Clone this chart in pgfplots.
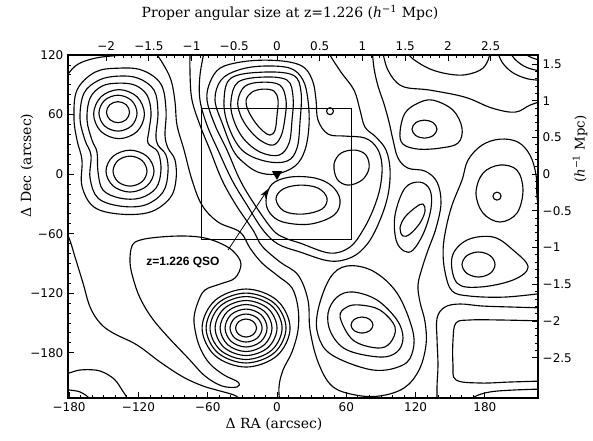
\documentclass[border=0pt]{standalone}
\usepackage{fontspec}
\setmainfont{DejaVu Serif}
\newfontfamily\numfont{DejaVu Sans}
\newfontfamily\lblfont{Liberation Sans}
\usepackage{pgfplots}
\pgfplotsset{compat=1.18}
\usetikzlibrary{arrows.meta}
\pgfplotsset{cl/.style={/tikz/smooth cycle, tension=0.6}, op/.style={smooth, tension=0.6}}
\begin{document}
\begin{tikzpicture}
\begin{axis}[
  scale only axis, width=352.5pt, height=257.25pt,
  xmin=-181, xmax=226, ymin=-225.6, ymax=120,
  axis line style={line width=0.8pt},
  tick align=inside, major tick length=4.5pt, minor tick length=2.5pt,
  every tick/.style={black, line width=0.6pt},
  xtick pos=bottom, ytick pos=left,
  xtick={-180,-120,-60,0,60,120,180},
  ytick={-180,-120,-60,0,60,120},
  minor x tick num=5, minor y tick num=5,
  xticklabels={−180,−120,−60,0,60,120,180},
  yticklabels={−180,−120,−60,0,60,120},
  tick label style={font=\numfont\fontsize{9}{11}\selectfont},
  every axis plot/.append style={black, line width=0.85pt},
]
% left double peak
\addplot[cl] coordinates {(-127.7,62.4) (-130.6,69.9) (-137.7,73.0) (-144.8,69.9) (-147.7,62.4) (-144.8,54.9) (-137.7,51.8) (-130.6,54.9)};
\addplot[cl] coordinates {(-121.2,61.4) (-126.0,74.2) (-137.7,79.5) (-149.4,74.2) (-154.2,61.4) (-149.4,48.6) (-137.7,43.3) (-126.0,48.6)};
\addplot[cl] coordinates {(-114.8,60.4) (-121.2,77.9) (-136.8,85.1) (-152.4,77.9) (-158.8,60.4) (-152.4,42.9) (-136.8,35.7) (-121.2,42.9)};
\addplot[cl] coordinates {(-112.6,3) (-116.9,13.7) (-127.3,18.1) (-137.7,13.7) (-142.0,3) (-137.7,-7.7) (-127.3,-12.1) (-116.9,-7.7)};
\addplot[cl] coordinates {(-106.5,3) (-112.6,17.9) (-127.3,24.1) (-142.0,17.9) (-148.1,3) (-142.0,-11.9) (-127.3,-18.1) (-112.6,-11.9)};
\addplot[cl] coordinates {(-137.7,91.6) (-123.0,89.6) (-112.6,79.6) (-109.1,62.4) (-110.8,44.3) (-111.7,31.2) (-103.1,22.2) (-100.5,4.0) (-104.8,-14.1) (-118.6,-24.2) (-136.0,-24.2) (-150.7,-16.1) (-155.0,2.0) (-155.9,22.2) (-160.2,34.2) (-164.5,54.4) (-161.9,76.5) (-151.6,88.6)};
\addplot[cl] coordinates {(-137.7,98.7) (-120.4,96.7) (-106.5,84.6) (-103.1,62.4) (-104.8,39.3) (-103.1,29.2) (-96.1,19.1) (-94.4,2.0) (-98.7,-18.1) (-114.3,-31.2) (-136.0,-32.2) (-155.0,-24.2) (-161.9,-4.0) (-161.1,19.1) (-166.3,34.2) (-170.6,56.4) (-167.1,81.6) (-154.1,94.7)};
\addplot[cl] coordinates {(-137.7,106.7) (-116.9,104.7) (-100.5,90.6) (-96.1,64.4) (-97.0,39.3) (-94.4,26.2) (-88.3,14.1) (-87.5,-6.0) (-92.7,-24.2) (-110.0,-38.3) (-136.0,-40.3) (-158.5,-33.2) (-168.9,-12.1) (-168.9,14.1) (-173.2,34.2) (-175.8,56.4) (-173.2,84.6) (-157.6,102.7)};
\addplot[op] coordinates {(-186.2,89.6) (-181.0,100.7) (-172.3,110.8) (-157.6,116.8) (-140.3,119.3) (-123.0,120.8) (-110.0,123.9)};
% central peak
\addplot[cl] coordinates {(-26.8,74.5) (-21.7,82.6) (-12.1,85.6) (-2.6,83.6) (0.9,74.5) (0,59.4) (-1.7,44.3) (-6.1,39.3) (-12.1,43.3) (-19.1,52.4) (-25.1,64.4)};
\addplot[cl] coordinates {(-33.8,74.5) (-27.7,88.6) (-13.0,92.6) (2.6,89.6) (7.8,74.5) (6.9,56.4) (3.5,38.3) (-3.5,29.2) (-14.7,34.2) (-25.1,46.3) (-32.0,60.4)};
\addplot[cl] coordinates {(-39.8,74.5) (-33.8,92.6) (-13.0,97.7) (8.7,94.7) (13.9,77.5) (13.0,54.4) (10.4,31.2) (1.7,19.1) (-14.7,22.2) (-29.4,36.3) (-38.1,56.4)};
\addplot[cl] coordinates {(-45.9,74.5) (-39.8,96.7) (-13.0,102.7) (13.9,99.7) (20.8,82.6) (19.9,52.4) (17.3,26.2) (8.7,13.1) (-10.4,13.1) (-30.3,24.2) (-42.4,49.3)};
\addplot[cl] coordinates {(-53.7,74.5) (-48.5,94.7) (-33.8,104.7) (-13.0,108.8) (11.3,106.7) (22.5,94.7) (26.8,74.5) (27.7,49.3) (24.2,24.2) (15.6,8.1) (-0.9,0) (-16.5,2.0) (-29.4,12.1) (-38.1,24.2) (-46.8,49.3)};
\addplot[cl] coordinates {(-0.9,-25.2) (5.2,-15.1) (19.9,-11.1) (35.5,-14.1) (43.3,-24.2) (39.0,-35.2) (22.5,-40.3) (6.1,-37.3)};
\addplot[cl] coordinates {(-9.5,-26.2) (-4.3,-10.1) (11.3,-3.0) (32.9,-4.0) (47.6,-12.1) (54.6,-26.2) (49.4,-41.3) (28.6,-50.4) (5.2,-48.3) (-6.1,-39.3)};
\addplot[cl] coordinates {(49.4,10.1) (55.4,21.1) (67.5,24.2) (77.1,19.1) (79.7,6.0) (73.6,-6.0) (61.5,-11.1) (52.0,-5.0)};
\addplot[cl] coordinates {(48.9,63.4) (48.0,65.9) (45.9,66.9) (43.8,65.9) (42.9,63.4) (43.8,60.9) (45.9,59.9) (48.0,60.9)};
\addplot[cl] coordinates {(-60.6,74.5) (-53.7,49.3) (-43.3,24.2) (-32.0,-6.0) (-19.1,-31.2) (-3.5,-56.4) (6.9,-64.4) (19.9,-69.5) (45.9,-79.6) (63.2,-73.5) (74.5,-56.4) (83.1,-36.3) (89.2,-14.1) (90.9,9.1) (86.6,26.2) (76.2,36.3) (58.9,38.3) (44.2,40.3) (35.5,54.4) (33.8,74.5) (31.2,92.6) (24.2,106.7) (11.3,112.8) (-10.4,114.8) (-32.0,112.8) (-49.4,106.7) (-58.0,92.6)};
\addplot[op] coordinates {(-62.4,126.9) (-66.7,99.7) (-66.7,74.5) (-60.6,49.3) (-51.1,24.2) (-39.0,-6.0) (-26.0,-31.2) (-12.1,-56.4) (0.9,-70.5) (19.9,-78.5) (45.9,-87.6) (65.0,-83.6) (78.8,-69.5) (89.2,-46.3) (96.1,-21.1) (97.9,4.0) (94.4,24.2) (85.7,37.3) (76.2,47.3) (71.9,64.4) (66.7,84.6) (55.4,102.7) (45.9,119.8) (43.3,126.9)};
\addplot[op] coordinates {(-75.3,126.9) (-75.3,99.7) (-73.6,74.5) (-66.7,49.3) (-58.0,24.2) (-47.6,-6.0) (-35.5,-31.2) (-20.8,-56.4) (-13.0,-72.5) (2.6,-88.6) (18.2,-101.7) (26.8,-126.9) (28.6,-157.1) (35.5,-189.3) (47.6,-213.5) (67.5,-222.5) (89.2,-223.5) (110.0,-215.5) (123.0,-197.4) (129.0,-172.2) (128.2,-149.0) (123.8,-128.9) (122.1,-111.8) (125.6,-94.7) (130.8,-76.5) (137.7,-54.4) (142.0,-29.2) (138.6,-8.1) (128.2,3.0) (113.4,6.0) (104.8,16.1) (100.5,34.2) (97.0,52.4) (92.7,70.5) (87.5,88.6) (84.0,106.7) (82.3,126.9)};
\addplot[op] coordinates {(-108.3,126.9) (-99.6,112.8) (-91.8,94.7) (-88.3,72.5) (-86.6,49.3) (-80.5,24.2) (-73.6,-6.0) (-65.0,-31.2) (-51.1,-48.3) (-32.0,-58.4) (-23.4,-74.5) (-13.0,-89.6) (0.9,-102.7) (13.0,-114.8) (18.2,-135.0) (18.2,-157.1) (13.0,-179.2) (5.2,-197.4) (1.7,-214.5) (2.6,-232.6)};
% QSO region and lower swirl
\addplot[cl] coordinates {(-125.6,-72.5) (-118.6,-66.5) (-101.3,-63.4) (-79.7,-62.4) (-62.4,-64.4) (-47.6,-70.5) (-37.2,-78.5) (-31.2,-90.6) (-36.4,-104.7) (-49.4,-110.8) (-62.4,-116.8) (-68.4,-128.9) (-71.9,-145.0) (-70.1,-162.1) (-65.8,-177.2) (-58.0,-191.3) (-45.9,-202.4) (-33.8,-209.5) (-34.6,-214.5) (-47.6,-213.5) (-62.4,-203.4) (-77.1,-185.3) (-94.4,-164.1) (-108.3,-145.0) (-118.6,-124.9) (-124.7,-104.7) (-127.3,-88.6)};
\addplot[cl] coordinates {(-17.7,-155.1) (-20.4,-148.7) (-26.8,-146.0) (-33.2,-148.7) (-35.9,-155.1) (-33.2,-161.5) (-26.8,-164.2) (-20.4,-161.5)};
\addplot[cl] coordinates {(-12.9,-155.1) (-17.0,-145.1) (-26.8,-141.0) (-36.6,-145.1) (-40.7,-155.1) (-36.6,-165.1) (-26.8,-169.2) (-17.0,-165.1)};
\addplot[cl] coordinates {(-8.6,-155.1) (-13.9,-141.6) (-26.8,-136.0) (-39.7,-141.6) (-45.0,-155.1) (-39.7,-168.6) (-26.8,-174.2) (-13.9,-168.6)};
\addplot[cl] coordinates {(-4.3,-155.1) (-10.9,-138.3) (-26.8,-131.4) (-42.7,-138.3) (-49.3,-155.1) (-42.7,-171.9) (-26.8,-178.8) (-10.9,-171.9)};
\addplot[cl] coordinates {(0,-155.1) (-7.8,-135.5) (-26.8,-127.4) (-45.8,-135.5) (-53.6,-155.1) (-45.8,-174.7) (-26.8,-182.8) (-7.8,-174.7)};
\addplot[cl] coordinates {(4.4,-155.1) (-4.7,-132.7) (-26.8,-123.4) (-48.9,-132.7) (-58.0,-155.1) (-48.9,-177.5) (-26.8,-186.8) (-4.7,-177.5)};
\addplot[cl] coordinates {(7.8,-155.1) (-2.3,-130.2) (-26.8,-119.9) (-51.3,-130.2) (-61.4,-155.1) (-51.3,-180.0) (-26.8,-190.3) (-2.3,-180.0)};
\addplot[cl] coordinates {(11.3,-155.1) (0.1,-127.3) (-26.8,-115.8) (-53.7,-127.3) (-64.9,-155.1) (-53.7,-182.9) (-26.8,-194.4) (0.1,-182.9)};
\addplot[op] coordinates {(-186.2,-51.4) (-180.1,-64.4) (-174.9,-83.6) (-168.0,-109.8) (-161.9,-133.9) (-153.3,-150.0) (-142.0,-160.1) (-121.2,-172.2) (-101.3,-189.3) (-81.4,-204.4) (-64.1,-213.5) (-49.4,-218.5) (-35.5,-223.6) (-27.7,-232.6)};
\addplot[op] coordinates {(-186.2,-201.4) (-180.1,-200.4) (-170.6,-197.4) (-157.6,-197.4) (-149.0,-200.4) (-140.3,-207.4) (-134.2,-217.5) (-129.9,-225.6) (-128.2,-232.6)};
\addplot[op] coordinates {(-186.2,-216.5) (-180.1,-217.5) (-170.6,-219.5) (-162.8,-225.6) (-160.2,-232.6)};
% right-hand structures
\addplot[cl] coordinates {(138.5,45.3) (135.3,51.7) (127.7,54.4) (120.1,51.7) (116.9,45.3) (120.1,38.9) (127.7,36.2) (135.3,38.9)};
\addplot[cl] coordinates {(106.5,42.3) (110.8,61.4) (122.1,71.5) (135.1,74.5) (152.4,64.4) (160.2,46.3) (156.7,31.2) (141.2,26.2) (122.1,25.2) (109.1,30.2)};
\addplot[cl] coordinates {(194.0,-22.2) (193.0,-19.4) (190.5,-18.2) (188.0,-19.4) (187.0,-22.2) (188.0,-25.0) (190.5,-26.2) (193.0,-25.0)};
\addplot[cl] coordinates {(172.3,-19.1) (178.4,1.0) (193.1,9.1) (207.8,4.0) (213.0,-16.1) (207.8,-39.3) (193.1,-48.3) (178.4,-39.3)};
\addplot[cl] coordinates {(126.4,-30.2) (120.4,-33.2) (110.8,-43.3) (106.5,-54.4) (109.1,-62.4) (115.2,-60.4) (123.8,-49.3) (128.2,-37.3)};
\addplot[cl] coordinates {(110.8,-14.1) (123.8,-8.1) (132.5,-16.1) (133.4,-34.2) (127.3,-58.4) (117.8,-76.5) (110.0,-77.5) (103.1,-66.5) (102.2,-41.3)};
\addplot[cl] coordinates {(188.8,-91.1) (184.6,-82.2) (174.5,-78.5) (164.4,-82.2) (160.2,-91.1) (164.4,-100.0) (174.5,-103.7) (184.6,-100.0)};
\addplot[cl] coordinates {(151.6,-83.6) (164.5,-66.5) (187.1,-63.4) (204.4,-76.5) (217.4,-93.7) (204.4,-106.7) (175.8,-113.8) (155.9,-109.8)};
\addplot[cl] coordinates {(83.1,-152.1) (80.3,-146.4) (73.6,-144.0) (66.9,-146.4) (64.1,-152.1) (66.9,-157.8) (73.6,-160.2) (80.3,-157.8)};
\addplot[cl] coordinates {(54.6,-144.0) (60.6,-133.9) (71.9,-131.9) (89.2,-137.0) (102.2,-154.1) (97.9,-170.2) (86.6,-175.2) (65.8,-167.2)};
\addplot[cl] coordinates {(44.2,-140.0) (52.0,-123.9) (65.8,-118.8) (86.6,-126.9) (103.9,-147.0) (109.1,-165.1) (103.9,-179.2) (89.2,-184.3) (60.6,-177.2) (46.8,-160.1)};
\addplot[cl] coordinates {(35.5,-137.0) (45.9,-104.7) (60.6,-92.6) (83.1,-97.7) (103.9,-119.8) (116.9,-155.1) (117.8,-177.2) (109.1,-192.3) (83.1,-197.4) (47.6,-182.3) (35.5,-162.1)};
\addplot[op] coordinates {(232.1,-119.8) (197.4,-123.9) (167.1,-122.9) (151.6,-117.8) (145.5,-98.7) (143.8,-76.5) (146.4,-54.4) (151.6,-31.2) (160.2,-6.0) (165.4,14.1) (177.5,29.2) (193.1,35.2) (208.7,32.2) (219.1,19.1) (224.3,-1.0) (225.2,-24.2) (227.8,-36.3) (232.1,-41.3)};
\addplot[op] coordinates {(232.1,-134.9) (201.8,-133.9) (177.5,-132.9) (158.5,-130.9) (145.5,-133.9) (138.6,-145.0) (138.6,-167.2) (139.4,-192.3) (138.6,-212.5) (138.6,-232.6)};
\addplot[op] coordinates {(232.1,-148.0) (193.1,-147.0) (167.1,-147.0) (155.0,-150.0) (152.4,-167.2) (152.4,-192.3) (155.0,-207.4) (175.8,-210.5) (201.8,-209.5) (232.1,-208.4)};
\addplot[op] coordinates {(165.4,-232.6) (170.6,-224.6) (184.5,-219.5) (206.1,-217.5) (232.1,-216.5)};
\addplot[op] coordinates {(90.9,126.9) (96.1,104.7) (108.3,88.6) (132.5,84.6) (162.8,77.5) (186.2,66.5) (206.1,62.4) (219.1,69.5) (232.1,74.5)};
\addplot[op] coordinates {(110.8,126.9) (116.9,116.8) (135.1,104.7) (158.5,99.7) (175.8,104.7) (182.8,114.8) (184.5,126.9)};
\addplot[op] coordinates {(189.7,126.9) (194.9,112.8) (203.5,102.7) (214.8,96.7) (225.2,94.7) (232.1,94.7)};
\addplot[op] coordinates {(200.0,126.9) (205.2,116.8) (213.9,108.8) (224.3,104.7) (232.1,104.7)};
\addplot[op] coordinates {(211.3,126.9) (216.5,119.8) (224.3,115.8) (232.1,114.8)};
% box, arrow and QSO position
\addplot[line width=0.7pt] coordinates {(-65.8,65.8) (64.1,65.8) (64.1,-65.7) (-65.8,-65.7) (-65.8,65.8)};
\addplot[line width=0.6pt, -{Stealth[length=7pt,width=4.5pt]}] coordinates {(-42.4,-76.5) (-7.8,-15.1)};
\addplot[only marks, mark=triangle*, mark size=3.5pt, mark options={rotate=180}] coordinates {(0,0)};
\coordinate (SW) at (rel axis cs:0,0);
\end{axis}
\begin{axis}[
  scale only axis, width=352.5pt, height=257.25pt,
  xmin=-2.4459, xmax=3.0541, ymin=-3.0486, ymax=1.6216,
  axis line style={draw=none},
  tick align=inside, major tick length=4.5pt, minor tick length=2.5pt,
  every tick/.style={black, line width=0.6pt},
  xtick pos=top, ytick pos=right,
  xtick={-2,-1.5,-1,-0.5,0,0.5,1,1.5,2,2.5},
  ytick={-2.5,-2,-1.5,-1,-0.5,0,0.5,1,1.5},
  minor x tick num=4, minor y tick num=4,
  xticklabels={−2,−1.5,−1,−0.5,0,0.5,1,1.5,2,2.5},
  yticklabels={−2.5,−2,−1.5,−1,−0.5,0,0.5,1,1.5},
  tick label style={font=\numfont\fontsize{9}{11}\selectfont},
  yticklabel style={anchor=west},
]
\end{axis}
\coordinate (O) at ([shift={(-51pt,298.5pt)}]SW);
\node[font=\fontsize{10.5}{12}\selectfont] at ([shift={(217.5pt,-9.75pt)}]O) {Proper angular size at z=1.226 (\textit{h}\textsuperscript{−1} Mpc)};
\node[font=\fontsize{10.5}{12}\selectfont] at ([shift={(205.5pt,-318pt)}]O) {Δ RA (arcsec)};
\node[font=\fontsize{10.5}{12}\selectfont, rotate=90] at ([shift={(20.25pt,-124pt)}]O) {Δ Dec (arcsec)};
\node[font=\fontsize{10}{12}\selectfont, rotate=90] at ([shift={(435pt,-111.75pt)}]O) {(\textit{h}\textsuperscript{−1} Mpc)};
\node[font=\lblfont\bfseries\fontsize{9}{11}\selectfont] at ([shift={(137.25pt,-196.5pt)}]O) {z=1.226 QSO};
\pgfresetboundingbox
\path (O) rectangle ([shift={(444.75pt,-330pt)}]O);
\end{tikzpicture}
\end{document}
